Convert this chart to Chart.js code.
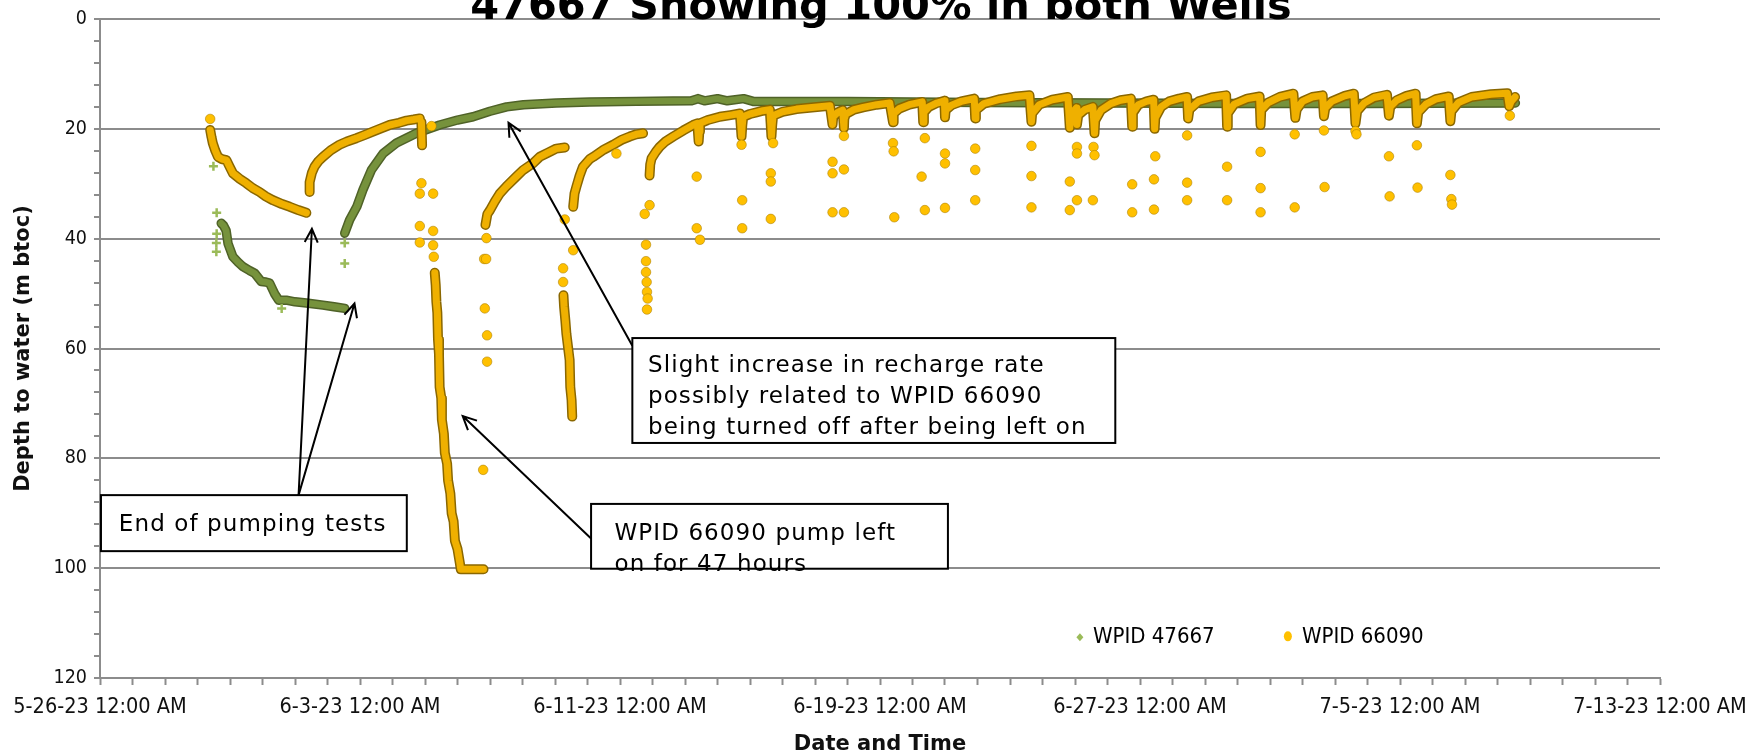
<!DOCTYPE html>
<html>
<head>
<meta charset="utf-8">
<script src="https://cdn.jsdelivr.net/npm/chart.js@4.4.1/dist/chart.umd.min.js"></script>
<style>
  body { margin: 0; background: #fff; }
</style>
</head>
<body>
<canvas id="wellChart" width="1749" height="756"></canvas>
<script>
// x values are days after 5-26-23 12:00 AM, y values are depth to water (m btoc)
const xTickLabels = ['5-26-23 12:00 AM', '6-3-23 12:00 AM', '6-11-23 12:00 AM', '6-19-23 12:00 AM',
                     '6-27-23 12:00 AM', '7-5-23 12:00 AM', '7-13-23 12:00 AM'];
const yTickLabels = ['0', '20', '40', '60', '80', '100', '120'];

// WPID 66090 - dense runs of readings (each inner list is one unbroken run)
const runs66090 = [
  [[3.39,20.2],[3.43,21.5],[3.47,22.6],[3.55,24.0],[3.63,25.1],[3.75,25.5],[3.89,25.7],[3.98,26.8],[4.09,28.1],[4.3,29.1],
   [4.5,29.9],[4.7,30.8],[4.91,31.5],[5.1,32.3],[5.32,33.0],[5.6,33.7],[5.84,34.2],[6.1,34.8],[6.35,35.3]],
  [[6.45,31.5],[6.45,29.7],[6.52,28.0],[6.6,26.9],[6.72,25.9],[6.86,25.1],[7.1,23.9],[7.37,22.9],[7.6,22.3],[7.89,21.7],
   [8.15,21.1],[8.4,20.5],[8.65,19.9],[8.91,19.3],[9.2,18.9],[9.43,18.5],[9.65,18.3],[9.84,18.1]],
  [[9.89,18.8],[9.91,23.0]],
  [[10.30,46.2],[10.33,48.5],[10.35,51.5],[10.38,53.5],[10.40,58.3],[10.43,61.0],[10.45,67.0],[10.50,69.0],[10.52,73.0],
   [10.58,75.5],[10.61,79.0],[10.68,81.0],[10.71,84.0],[10.78,86.4],[10.82,90.0],[10.88,91.5],[10.92,95.0],[11.0,96.5],
   [11.07,99.0],[11.1,100.2],[11.8,100.2]],
  [[11.86,37.5],[11.92,35.5],[12.0,34.8],[12.15,33.2],[12.3,31.8],[12.5,30.5],[12.81,28.7],[13.02,27.5],[13.32,26.3],
   [13.53,25.1],[13.8,24.3],[14.04,23.6],[14.3,23.4]],
  [[14.26,50.3],[14.28,52.4],[14.32,55.0],[14.35,57.3],[14.40,59.7],[14.45,62.1],[14.47,67.0],[14.51,69.4],[14.53,72.4]],
  [[14.56,34.2],[14.6,31.8],[14.66,30.5],[14.76,28.5],[14.86,26.9],[15.07,25.5],[15.18,25.1],[15.5,23.8],[15.79,22.9],
   [16.05,22.0],[16.3,21.4],[16.5,21.0],[16.71,20.8]],
  [[16.91,28.5],[16.93,26.5],[16.97,25.4],[17.1,24.2],[17.22,23.3],[17.4,22.3],[17.64,21.4],[17.95,20.3],[18.25,19.3],[18.38,19.0],
   [18.42,22.3],[18.44,20.5],[18.46,19.0],[18.7,18.4],[19.07,17.8],[19.4,17.5],[19.69,17.2],
   [19.74,21.4],[19.76,19.5],[19.79,17.8],[20.0,17.3],[20.2,17.0],[20.4,16.7],[20.61,16.5],
   [20.66,21.4],[20.68,19.5],[20.71,17.6],[21.0,16.9],[21.43,16.4],[21.9,16.1],[22.46,15.8],
   [22.54,19.2],[22.56,17.8],[22.7,17.0],[22.85,16.6],
   [22.89,19.8],[22.9,18.2],[22.95,17.3],[23.2,16.5],[23.48,16.1],[23.9,15.6],[24.3,15.3],
   [24.4,18.8],[24.42,17.2],[24.6,16.3],[24.9,15.6],[25.3,15.1],
   [25.33,18.8],[25.35,17.0],[25.5,16.0],[25.75,15.3],[25.98,14.9],
   [26.0,17.9],[26.02,16.6],[26.2,15.7],[26.5,15.0],[26.9,14.5],
   [26.93,18.1],[26.95,16.6],[27.2,15.4],[27.7,14.6],[28.2,14.1],[28.6,13.9],
   [28.66,18.7],[28.68,17.2],[28.9,15.6],[29.3,14.7],[29.78,14.2],
   [29.84,19.8],[29.86,18.0],[29.95,16.8],[30.04,16.2],
   [30.06,19.2],[30.1,17.5],[30.3,16.5],[30.55,16.0],
   [30.6,20.8],[30.62,18.5],[30.8,16.6],[31.1,15.4],[31.4,14.8],[31.72,14.5],
   [31.76,19.6],[31.78,17.1],[31.95,15.6],[32.2,15.0],[32.42,14.7],
   [32.45,20.0],[32.47,18.0],[32.65,16.0],[32.9,15.0],[33.2,14.5],[33.45,14.2],
   [33.48,18.1],[33.52,16.5],[33.8,15.0],[34.2,14.3],[34.65,13.9],
   [34.68,19.6],[34.7,17.2],[34.9,15.5],[35.3,14.5],[35.68,14.1],
   [35.71,19.3],[35.73,16.6],[35.95,15.2],[36.3,14.2],[36.72,13.6],
   [36.78,18.0],[36.82,16.5],[37.0,15.0],[37.3,14.2],[37.62,13.9],
   [37.66,17.7],[37.7,16.2],[37.9,15.0],[38.3,14.0],[38.58,13.6],
   [38.63,19.0],[38.68,16.8],[38.9,15.3],[39.2,14.3],[39.6,13.8],
   [39.66,17.6],[39.7,16.0],[39.9,14.8],[40.2,14.0],[40.48,13.6],
   [40.52,19.0],[40.56,17.0],[40.8,15.5],[41.1,14.6],[41.5,14.1],
   [41.55,18.6],[41.58,16.8],[41.8,15.2],[42.2,14.2],[42.8,13.7],[43.3,13.5],
   [43.36,15.9],[43.42,15.0],[43.54,14.2]]
];

// WPID 66090 - scattered single readings
const spots66090 = [
  [3.39,18.2],[10.2,19.5],
  [9.89,29.9],[9.84,31.8],[10.25,31.8],[9.84,37.7],[10.25,38.6],[9.84,40.7],[10.25,41.2],[10.27,43.3],
  [11.79,82.1],[11.91,62.4],[11.91,57.6],[11.84,52.7],[11.82,43.7],[11.88,43.7],[11.89,39.9],
  [14.30,36.5],[14.56,42.1],[14.25,45.4],[14.25,47.9],[15.89,24.5],
  [16.91,33.9],[16.76,35.5],[16.80,41.1],[16.80,44.1],[16.80,46.1],[16.82,47.9],[16.83,49.7],[16.85,50.9],[16.83,52.9],
  [18.36,28.7],[18.36,38.1],[18.46,40.2],
  [19.74,22.9],[19.76,33.0],[19.76,38.1],
  [20.71,22.6],[20.64,28.1],[20.64,29.6],[20.64,36.4],
  [22.89,21.3],[22.54,26.0],[22.54,28.1],[22.89,27.4],[22.54,35.2],[22.89,35.2],
  [24.4,22.6],[24.42,24.1],[24.44,36.1],
  [25.38,21.7],[25.28,28.7],[25.38,34.8],
  [26.0,24.5],[26.0,26.3],[26.0,34.4],
  [26.93,23.6],[26.93,27.5],[26.93,33.0],
  [28.66,23.1],[28.66,28.6],[28.66,34.3],
  [29.84,29.6],[29.84,34.8],[30.06,23.3],[30.06,24.5],[30.06,33.0],
  [30.57,23.3],[30.6,24.8],[30.55,33.0],
  [31.76,30.1],[31.76,35.2],
  [32.43,29.2],[32.43,34.7],[32.47,25.0],
  [33.45,21.2],[33.45,29.8],[33.45,33.0],
  [34.68,26.9],[34.68,33.0],
  [35.71,24.2],[35.71,30.8],[35.71,35.2],
  [36.76,21.0],[36.76,34.3],
  [37.66,20.3],[37.68,30.6],
  [38.63,20.4],[38.66,21.0],
  [39.66,25.0],[39.68,32.3],
  [40.52,23.0],[40.54,30.7],
  [41.55,28.4],[41.58,32.8],[41.6,33.8],
  [43.38,17.6]
];

// WPID 47667
const runs47667 = [
  [[3.73,37.2],[3.8,37.6],[3.88,38.5],[3.94,40.9],[4.09,43.3],[4.25,44.3],[4.4,45.1],[4.6,45.8],[4.76,46.3],[4.96,47.8],
   [5.1,47.9],[5.22,48.1],[5.37,50.0],[5.5,51.2],[5.73,51.2],[6.0,51.5],[6.35,51.7],[6.86,52.1],[7.2,52.4],[7.53,52.7]],
  [[7.53,39.0],[7.68,36.6],[7.9,34.2],[8.09,31.1],[8.35,27.5],[8.71,24.5],[9.12,22.6],[9.73,20.8],[10.45,19.3],[11.0,18.4],
   [11.48,17.8],[12.0,16.8],[12.51,16.0],[13.03,15.6],[14.04,15.3],[15.07,15.1],[16.5,15.0],[18.2,14.9],[18.4,14.5],
   [18.6,14.9],[19.0,14.5],[19.3,14.9],[19.8,14.5],[20.1,15.0],[23.0,15.0],[27.0,15.2],[31.0,15.3],[35.0,15.4],
   [39.0,15.4],[43.55,15.3]]
];
const spots47667 = [[3.49,26.8],[3.59,35.3],[3.59,39.1],[3.58,40.8],[3.58,42.4],[5.59,52.7],[7.53,44.5],[7.53,40.8]];

const FONT = '"DejaVu Sans", sans-serif';
const NARROW = '"Liberation Sans Narrow", "DejaVu Sans Condensed", "DejaVu Sans", sans-serif';

function joinRuns(runs) {
  const out = [];
  runs.forEach(function(run, i) {
    if (i > 0) out.push({x: run[0][0], y: null});
    run.forEach(p => out.push({x: p[0], y: p[1]}));
  });
  return out;
}
function toPoints(list) {
  return list.map(p => ({x: p[0], y: p[1]}));
}

// callouts, placed in data units
const notes = [
  {box: [0.03, 9.44, 86.7, 96.9], text: ['End of pumping tests'], at: [0.58, 93.2],
   from: [6.11, 86.7], tips: [[6.52, 38.2], [7.83, 51.8]]},
  {box: [15.11, 26.09, 88.3, 100.1], text: ['WPID 66090 pump left', 'on for 47 hours'], at: [15.83, 94.9],
   from: [15.11, 94.6], tips: [[11.16, 72.3]]},
  {box: [16.38, 31.24, 58.1, 77.2], text: ['Slight increase in recharge rate', 'possibly related to WPID 66090',
   'being turned off after being left on'], at: [16.86, 64.2],
   from: [16.38, 59.5], tips: [[12.57, 18.9]]}
];

const extras = {
  id: 'extras',
  afterDatasetsDraw(chart) {
    const ctx = chart.ctx, xs = chart.scales.x, ys = chart.scales.y;
    ctx.save();
    ctx.strokeStyle = '#000';
    ctx.lineWidth = 2;
    for (let n of notes) {
      const fx = xs.getPixelForValue(n.from[0]), fy = ys.getPixelForValue(n.from[1]);
      for (let t of n.tips) {
        const tx = xs.getPixelForValue(t[0]), ty = ys.getPixelForValue(t[1]);
        const ang = Math.atan2(fy - ty, fx - tx);
        ctx.beginPath();
        ctx.moveTo(fx, fy);
        ctx.lineTo(tx, ty);
        ctx.moveTo(tx + 15 * Math.cos(ang + 0.45), ty + 15 * Math.sin(ang + 0.45));
        ctx.lineTo(tx, ty);
        ctx.lineTo(tx + 15 * Math.cos(ang - 0.45), ty + 15 * Math.sin(ang - 0.45));
        ctx.stroke();
      }
      const x1 = xs.getPixelForValue(n.box[0]), x2 = xs.getPixelForValue(n.box[1]);
      const y1 = ys.getPixelForValue(n.box[2]), y2 = ys.getPixelForValue(n.box[3]);
      ctx.fillStyle = '#fff';
      ctx.fillRect(x1, y1, x2 - x1, y2 - y1);
      ctx.strokeRect(x1, y1, x2 - x1, y2 - y1);
      ctx.fillStyle = '#000';
      ctx.font = '23px ' + FONT;
      ctx.letterSpacing = '1.1px';
      ctx.textBaseline = 'alphabetic';
      const tx0 = xs.getPixelForValue(n.at[0]), ty0 = ys.getPixelForValue(n.at[1]);
      n.text.forEach((line, i) => ctx.fillText(line, tx0, ty0 + i * 31));
      ctx.letterSpacing = '0px';
    }
    ctx.restore();
  },
  afterDraw(chart) {
    const ctx = chart.ctx, area = chart.chartArea, xs = chart.scales.x, ys = chart.scales.y;
    ctx.save();
    // title, cut off by the top of the picture as in the original
    ctx.fillStyle = '#000';
    ctx.font = 'bold 41.5px ' + FONT;
    ctx.textAlign = 'center';
    ctx.textBaseline = 'alphabetic';
    ctx.fillText('47667 Showing 100% in both Wells', (area.left + area.right) / 2 + 1, area.top);

    // legend inside the plot
    ctx.textAlign = 'left';
    ctx.textBaseline = 'middle';
    ctx.font = '22px ' + NARROW;
    const ly = ys.getPixelForValue(112.6);
    let lx = xs.getPixelForValue(30.15);
    ctx.fillStyle = '#9bbb59';
    ctx.beginPath();
    ctx.moveTo(lx, ly - 4); ctx.lineTo(lx + 3.5, ly); ctx.lineTo(lx, ly + 4); ctx.lineTo(lx - 3.5, ly);
    ctx.closePath(); ctx.fill();
    ctx.fillStyle = '#000';
    ctx.fillText('WPID 47667', lx + 13, ly);
    lx = xs.getPixelForValue(36.55);
    ctx.fillStyle = '#ffc000';
    ctx.beginPath(); ctx.ellipse(lx, ly - 1, 4, 5, 0, 0, Math.PI * 2); ctx.fill();
    ctx.fillStyle = '#000';
    ctx.fillText('WPID 66090', lx + 14, ly);
    ctx.restore();
  }
};

const chart = new Chart(document.getElementById('wellChart'), {
  type: 'scatter',
  data: {
    datasets: [
      {label: 'WPID 66090', data: toPoints(spots66090), order: 0, pointStyle: 'circle', pointRadius: 4.8,
       backgroundColor: '#ffc000', borderColor: 'rgba(170,125,0,0.55)', borderWidth: 1},
      {label: 'WPID 66090', data: joinRuns(runs66090), order: 1, showLine: true, pointRadius: 0,
       borderColor: '#efb000', borderWidth: 7, borderJoinStyle: 'round', borderCapStyle: 'round'},
      {label: 'WPID 66090', data: joinRuns(runs66090), order: 2, showLine: true, pointRadius: 0,
       borderColor: '#8a6700', borderWidth: 10, borderJoinStyle: 'round', borderCapStyle: 'round'},
      {label: 'WPID 47667', data: toPoints(spots47667), order: 3, pointStyle: 'cross', pointRadius: 4.5,
       borderColor: '#9bbb59', borderWidth: 2.5},
      {label: 'WPID 47667', data: joinRuns(runs47667), order: 4, showLine: true, pointRadius: 0,
       borderColor: '#76923c', borderWidth: 6.5, borderJoinStyle: 'round', borderCapStyle: 'round'},
      {label: 'WPID 47667', data: joinRuns(runs47667), order: 5, showLine: true, pointRadius: 0,
       borderColor: '#4f6228', borderWidth: 9.5, borderJoinStyle: 'round', borderCapStyle: 'round'}
    ]
  },
  options: {
    responsive: false,
    animation: false,
    devicePixelRatio: 1,
    layout: {padding: {top: 19, right: 89, left: 0, bottom: 0}},
    plugins: {
      legend: {display: false},
      tooltip: {enabled: false}
    },
    scales: {
      x: {
        type: 'linear', min: 0, max: 48,
        ticks: {
          stepSize: 1, autoSkip: false, maxRotation: 0, minRotation: 0, padding: 10,
          color: '#111', font: {family: NARROW, size: 21.5},
          callback: v => v % 8 === 0 ? xTickLabels[v / 8] : ''
        },
        grid: {drawOnChartArea: false, tickLength: 7, tickColor: '#8c8c8c', tickWidth: 2},
        border: {color: '#8c8c8c', width: 2},
        title: {display: true, text: 'Date and Time', color: '#111',
                font: {family: FONT, size: 21, weight: 'bold', lineHeight: 1.05}, padding: {top: 0, bottom: 0}},
        afterFit(s) { s.height = 78; s.paddingLeft = 0; s.paddingRight = 0; }
      },
      y: {
        reverse: true, min: 0, max: 120,
        ticks: {
          stepSize: 4, autoSkip: false, padding: 7,
          color: '#111', font: {family: NARROW, size: 19.5},
          callback: v => v % 20 === 0 ? yTickLabels[v / 20] : ''
        },
        grid: {
          color: c => (c.tick && c.tick.value % 20 === 0) ? '#8c8c8c' : 'rgba(0,0,0,0)',
          lineWidth: 2, tickLength: 6, tickColor: '#8c8c8c', tickWidth: 2
        },
        border: {color: '#8c8c8c', width: 2},
        title: {display: true, text: 'Depth to water (m btoc)', color: '#111',
                font: {family: FONT, size: 21, weight: 'bold'}, padding: {top: 11, bottom: 0}},
        afterFit(s) { s.width = 100; s.paddingTop = 0; s.paddingBottom = 0; }
      }
    }
  },
  plugins: [extras]
});
</script>
</body>
</html>
